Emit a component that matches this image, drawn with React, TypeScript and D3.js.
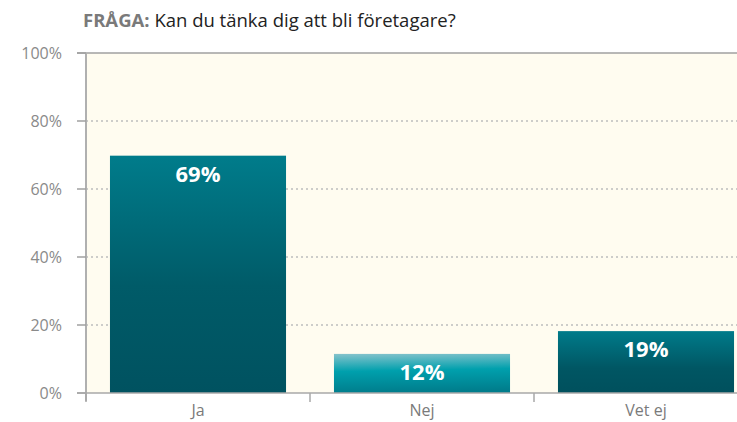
import React from 'react';
import * as d3 from 'd3';

const categories = ['Ja', 'Nej', 'Vet ej'];
const values = [69.8, 11.5, 18.2];
const valueLabels = ['69%', '12%', '19%'];
const yTicks = [0, 20, 40, 60, 80, 100];

const W = 737;
const H = 422;
const margin = {top: 53, right: -21, bottom: 29, left: 86};

export default function App() {
	const x = d3.scaleBand<string>()
		.domain(categories)
		.range([margin.left, W - margin.right])
		.paddingInner(0.214)
		.paddingOuter(0.107);
	const y = d3.scaleLinear().domain([0, 100]).range([H - margin.bottom, margin.top]);
	const halfGap = x.step() * x.paddingInner() / 2;
	const font = '"Open Sans", sans-serif';

	return (
		<svg width={W} height={H} style={{position: 'absolute', left: 0, top: 0}} fontFamily={font}>
			<defs>
				<linearGradient id="gDark" x1="0" y1="0" x2="0" y2="1">
					<stop offset="0" stopColor="#007c8b"/>
					<stop offset="0.55" stopColor="#005b68"/>
					<stop offset="1" stopColor="#005260"/>
				</linearGradient>
				<linearGradient id="gDarkShort" x1="0" y1="0" x2="0" y2="1">
					<stop offset="0" stopColor="#007b8a"/>
					<stop offset="0.6" stopColor="#005663"/>
					<stop offset="1" stopColor="#00505d"/>
				</linearGradient>
				<linearGradient id="gLight" x1="0" y1="0" x2="0.08" y2="1">
					<stop offset="0" stopColor="#86c3cc"/>
					<stop offset="0.45" stopColor="#00a0ad"/>
					<stop offset="1" stopColor="#007d8c"/>
				</linearGradient>
			</defs>

			{/* title */}
			<text x={83} y={27} fontSize={18.5}>
				<tspan fill="#7a7a7a" fontWeight="bold">FRÅGA:</tspan>
				<tspan fill="#222"> Kan du tänka dig att bli företagare?</tspan>
			</text>

			{/* plot background */}
			<rect x={margin.left} y={y(100)} width={W - margin.left} height={y(0) - y(100)} fill="#fffcf0"/>

			{/* grid */}
			{yTicks.filter(t => t > 0 && t < 100).map(t => (
				<line key={t} x1={margin.left} x2={W} y1={y(t)} y2={y(t)}
					stroke="#bdbdbd" strokeWidth={1.5} strokeDasharray="2,3"/>
			))}
			<line x1={margin.left - 9} x2={W} y1={y(100)} y2={y(100)} stroke="#a0a0a0" strokeWidth={1.5}/>

			{/* bars */}
			{categories.map((c, i) => (
				<rect key={c} x={x(c)} y={y(values[i])} width={x.bandwidth()} height={y(0) - y(values[i])}
					fill={i === 1 ? 'url(#gLight)' : i === 0 ? 'url(#gDark)' : 'url(#gDarkShort)'}/>
			))}
			{categories.map((c, i) => (
				<text key={c} x={(x(c) as number) + x.bandwidth() / 2} y={y(values[i]) + 26}
					textAnchor="middle" fill="#fff" fontWeight="bold" fontSize={22}>{valueLabels[i]}</text>
			))}

			{/* y axis */}
			<line x1={margin.left} x2={margin.left} y1={y(100)} y2={y(0) + 8} stroke="#b0b0b0" strokeWidth={2}/>
			{yTicks.map(t => (
				<g key={t}>
					<line x1={margin.left - 9} x2={margin.left} y1={y(t)} y2={y(t)} stroke="#a0a0a0" strokeWidth={1.5}/>
					<text x={62} y={y(t)} dy="0.35em" textAnchor="end" fill="#8a8a8a" fontSize={16}>{t}%</text>
				</g>
			))}

			{/* x axis */}
			<line x1={margin.left - 9} x2={W} y1={y(0)} y2={y(0)} stroke="#a8a8a8" strokeWidth={1.5}/>
			{categories.map(c => (
				<line key={c} x1={(x(c) as number) - halfGap} x2={(x(c) as number) - halfGap}
					y1={y(0)} y2={y(0) + 9} stroke="#a8a8a8" strokeWidth={1.5}/>
			))}
			{categories.map(c => (
				<text key={c} x={(x(c) as number) + x.bandwidth() / 2} y={y(0) + 23}
					textAnchor="middle" fill="#7a7a7a" fontSize={16}>{c}</text>
			))}
		</svg>
	);
}
